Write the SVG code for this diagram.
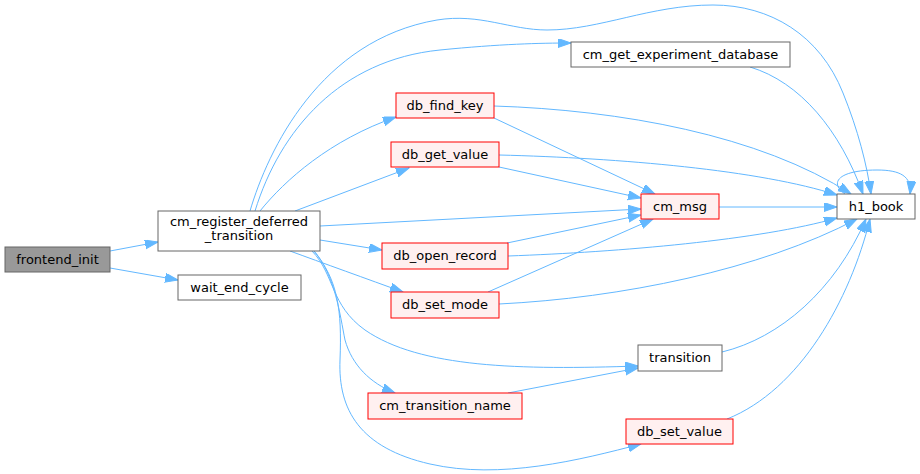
<svg xmlns="http://www.w3.org/2000/svg" width="920" height="474" viewBox="0 0 920 474">
<style>
.n rect{fill:#ffffff;stroke:#666666;stroke-width:1}
.n.r rect{fill:#fff0f0;stroke:#ff0000}
.n.g rect{fill:#999999;stroke:#666666}
.n text{font-family:"DejaVu Sans","Liberation Sans",sans-serif;font-size:13px;fill:#000000;text-anchor:middle}
#edges path{fill:none;stroke:#63b8ff;stroke-width:1;marker-end:url(#ah)}
</style>
<defs>
<marker id="ah" markerUnits="userSpaceOnUse" markerWidth="14" markerHeight="10" refX="13" refY="4.5" orient="auto">
<path d="M0,0 L13,4.5 L0,9 z" fill="#63b8ff" stroke="#63b8ff" stroke-width="1"/>
</marker>
</defs>
<rect width="920" height="474" fill="#ffffff"/>
<g id="edges">
<path d="M110,251 L158,242"/>
<path d="M110,268 L178,280"/>
<path d="M260,211 C285,180 330,140 396,117"/>
<path d="M295,211 L409,168"/>
<path d="M255,211 C280,130 340,60 440,50 C500,44 540,43 571,43"/>
<path d="M250,211 C268,150 320,40 437,20 C480,13 510,30 547,30 C600,30 650,5 713,5 C770,5 820,35 843,93 C858,130 867,165 871,194"/>
<path d="M320,226 L641,209"/>
<path d="M320,240 L382,250"/>
<path d="M290,251 C320,262 370,280 403,292"/>
<path d="M312,251 C335,275 330,305 365,330 C420,368 520,370 638,366"/>
<path d="M314,251 C335,275 340,315 345,340 C352,365 370,383 395,393"/>
<path d="M314,251 C338,280 342,310 340,360 C338,410 360,448 430,464 C500,480 580,460 641,444"/>
<path d="M494,118 L655,194"/>
<path d="M494,106 C620,110 760,135 851,194"/>
<path d="M499,167 L641,198"/>
<path d="M499,155 C620,158 760,170 837,195"/>
<path d="M507,243 L641,215"/>
<path d="M508,256 C620,252 760,240 837,218"/>
<path d="M488,292 L653,219"/>
<path d="M499,304 C620,298 760,270 857,219"/>
<path d="M719,207 L837,207"/>
<path d="M750,67 C800,82 840,130 863,194"/>
<path d="M722,352 C780,338 835,290 866,219"/>
<path d="M727,419 C800,390 850,300 870,219"/>
<path d="M508,393 L638,368"/>
<path d="M845,194 C828,182 840,170 877,170 C900,170 912,176 910,194"/>
</g>
<g id="node_frontend_init" class="n g"><rect x="5" y="247" width="105" height="25"/><text x="57.5" y="264">frontend_init</text></g>
<g id="node_cm_register_deferred_transition" class="n"><rect x="158" y="211" width="162" height="40"/><text x="239" y="226">cm_register_deferred</text><text x="239" y="240">_transition</text></g>
<g id="node_wait_end_cycle" class="n"><rect x="178" y="275" width="123" height="25"/><text x="239.5" y="292">wait_end_cycle</text></g>
<g id="node_db_find_key" class="n r"><rect x="396" y="93" width="98" height="25"/><text x="445" y="110">db_find_key</text></g>
<g id="node_db_get_value" class="n r"><rect x="391" y="142" width="108" height="25"/><text x="445" y="159">db_get_value</text></g>
<g id="node_db_open_record" class="n r"><rect x="382" y="243" width="126" height="26"/><text x="445" y="260">db_open_record</text></g>
<g id="node_db_set_mode" class="n r"><rect x="391" y="292" width="108" height="26"/><text x="445" y="309">db_set_mode</text></g>
<g id="node_cm_get_experiment_database" class="n"><rect x="571" y="42" width="219" height="25"/><text x="680.5" y="59">cm_get_experiment_database</text></g>
<g id="node_cm_msg" class="n r"><rect x="641" y="194" width="78" height="25"/><text x="680" y="211">cm_msg</text></g>
<g id="node_h1_book" class="n"><rect x="837" y="194" width="78" height="25"/><text x="876" y="211">h1_book</text></g>
<g id="node_transition" class="n"><rect x="638" y="345" width="84" height="26"/><text x="680" y="362">transition</text></g>
<g id="node_cm_transition_name" class="n r"><rect x="368" y="393" width="154" height="26"/><text x="445" y="410">cm_transition_name</text></g>
<g id="node_db_set_value" class="n r"><rect x="626" y="419" width="107" height="25"/><text x="679.5" y="436">db_set_value</text></g>
</svg>
